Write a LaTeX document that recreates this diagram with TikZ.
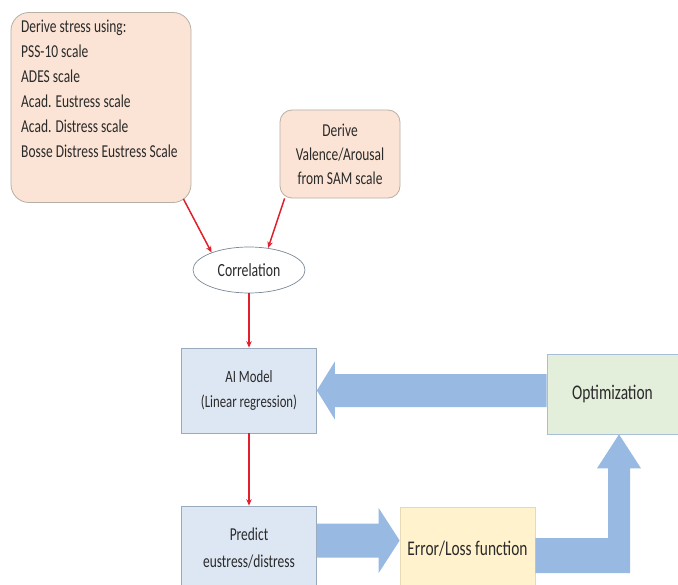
\documentclass[tikz,border=0pt]{standalone}
\usepackage{fontspec}
\setmainfont{Carlito}
\usepackage{graphicx}
\usetikzlibrary{calc,shapes.geometric,arrows.meta}

% narrow, tall lettering
\newcommand\tallt[1]{\scalebox{1}[1.35]{#1}}

\definecolor{peachfill}{HTML}{FBE4D5}
\definecolor{peachline}{HTML}{B5AFA6}
\definecolor{bluefill}{HTML}{DDE7F3}
\definecolor{blueline}{HTML}{9AAABD}
\definecolor{greenfill}{HTML}{E3EFDB}
\definecolor{greenline}{HTML}{A9BFD8}
\definecolor{yellowfill}{HTML}{FFF2CC}
\definecolor{yellowline}{HTML}{E6D9B5}
\definecolor{flowblue}{HTML}{98B9E2}
\definecolor{linkred}{HTML}{E2202C}
\definecolor{inktext}{HTML}{2A2A2A}

\tikzset{
  txt/.style={text=inktext, inner sep=0pt},
  peachbox/.style={draw=peachline, line width=0.8bp, fill=peachfill},
  bluebox/.style={draw=blueline, line width=0.7bp, fill=bluefill,
    minimum width=135bp, text=inktext, align=center},
  redlink/.style={draw=linkred, line width=1.5bp,
    -{Stealth[length=6.5bp,width=5.5bp]}},
  blockarrow/.style={fill=flowblue}
}

\begin{document}
\begin{tikzpicture}[x=1bp,y=-1bp]
\useasboundingbox (0,0) rectangle (678,585);
\clip (0,0) rectangle (678,585);

% input questionnaires
\node[peachbox, rounded corners=18bp, minimum width=180bp,
      minimum height=190bp] (stress) at (101,107.5) {};
\node[txt, anchor=north west, align=left,
      font=\fontsize{13.5}{25}\selectfont] (stresstext) at (21,20)
  {\tallt{Derive stress using:}\\
   \tallt{PSS-10 scale}\\
   \tallt{ADES scale}\\
   \tallt{Acad. Eustress scale}\\
   \tallt{Acad. Distress scale}\\
   \tallt{Bosse Distress Eustress Scale}};

\node[peachbox, rounded corners=12bp, minimum width=120bp,
      minimum height=88bp, text=inktext, align=center,
      font=\fontsize{13.5}{24}\selectfont] (sam) at (340,154)
  {\tallt{Derive}\\ \tallt{Valence/Arousal}\\ \tallt{from SAM scale}};

% correlation step
\node[ellipse, draw=blueline!80!black, line width=0.7bp, fill=white,
      minimum width=112bp, minimum height=46bp, text=inktext,
      font=\fontsize{13.8}{16}\selectfont] (corr) at (249,270)
  {\tallt{Correlation}};

% model loop
\node[bluebox, minimum height=85bp,
      font=\fontsize{12.8}{25}\selectfont] (ai) at (249,390.5)
  {\tallt{AI Model}\\ \tallt{(Linear regression)}};

\node[draw=greenline, line width=0.7bp, fill=greenfill,
      minimum width=131bp, minimum height=80bp, text=inktext,
      font=\fontsize{15.5}{18}\selectfont] (opt) at (612.5,394)
  {\tallt{Optimization}};

\node[bluebox, minimum height=84bp,
      font=\fontsize{13.5}{27}\selectfont] (pred) at (249,548)
  {\tallt{Predict}\\ \tallt{eustress/distress}};

\node[draw=yellowline, line width=0.7bp, fill=yellowfill,
      minimum width=135bp, minimum height=83bp, text=inktext,
      font=\fontsize{15.5}{18}\selectfont] (err) at (467.5,548.5)
  {\tallt{Error/Loss function}};

% thin red links
\draw[redlink] ($(stress.south east)+(-8,-4)$) -- (corr.155);
\draw[redlink] ($(sam.south west)+(5,0)$) -- (corr.49);
\draw[redlink] (corr.south) -- (ai.north);
\draw[redlink] (ai.south) -- (pred.north);

% block arrow: optimization back to the model
\fill[blockarrow]
  ($(ai.east -| opt.west)+(0,-16.5)$) -- ($(ai.east)+(18,-16.5)$)
  -- ($(ai.east)+(18,-29)$) -- (ai.east) -- ($(ai.east)+(18,29)$)
  -- ($(ai.east)+(18,16.5)$) -- ($(ai.east -| opt.west)+(0,16.5)$) -- cycle;

% block arrow: prediction to loss
\coordinate (pe) at ($(err.west)+(0,-8)$);
\fill[blockarrow]
  ($(pe -| pred.east)+(0,-17)$) -- ($(pe)+(-21,-17)$)
  -- ($(pe)+(-21,-32.5)$) -- (pe) -- ($(pe)+(-21,32.5)$)
  -- ($(pe)+(-21,17)$) -- ($(pe -| pred.east)+(0,17)$) -- cycle;

% bent block arrow: loss up to optimization
\coordinate (ot) at ($(opt.south)+(6.5,0)$);
\fill[blockarrow]
  ($(err.east)+(0,-10.5)$) -- ($(ot |- err.east)+(-11,-10.5)$)
  -- ($(ot)+(-11,34)$) -- ($(ot)+(-22,34)$) -- (ot)
  -- ($(ot)+(22,34)$) -- ($(ot)+(11,34)$)
  -- ($(ot |- err.east)+(11,24.5)$) -- ($(err.east)+(0,24.5)$) -- cycle;
\end{tikzpicture}
\end{document}
